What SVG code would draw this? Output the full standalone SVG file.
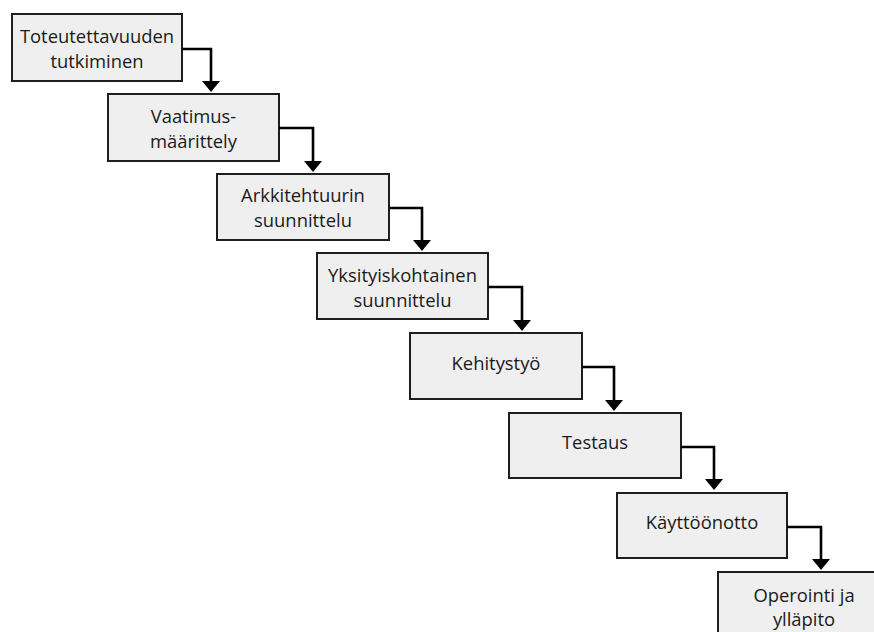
<svg xmlns="http://www.w3.org/2000/svg" width="874" height="632" viewBox="0 0 874 632">
<style>
.box{fill:#efefef;stroke:#1e1e1e;stroke-width:2}
.lbl{font-family:"Open Sans","Liberation Sans",sans-serif;font-size:18.4px;fill:#1a1a1a;text-anchor:middle}
.conn{fill:none;stroke:#000;stroke-width:2.6}
</style>
<defs>
<marker id="ah" markerUnits="userSpaceOnUse" markerWidth="14" markerHeight="20" viewBox="0 -10 12 20" refX="0" refY="0" orient="auto">
<path d="M0,-9 L11,0 L0,9 z" fill="#000"/>
</marker>
</defs>
<rect width="874" height="632" fill="#fff"/>
<g id="n1"><rect class="box" x="12" y="14" width="170" height="67"/><text class="lbl" x="97" y="43">Toteutettavuuden</text><text class="lbl" x="97" y="68">tutkiminen</text></g>
<g id="n2"><rect class="box" x="108" y="94" width="171" height="67"/><text class="lbl" x="193.5" y="123">Vaatimus-</text><text class="lbl" x="193.5" y="148">määrittely</text></g>
<g id="n3"><rect class="box" x="217" y="174" width="172" height="66"/><text class="lbl" x="303" y="202">Arkkitehtuurin</text><text class="lbl" x="303" y="227">suunnittelu</text></g>
<g id="n4"><rect class="box" x="317" y="253" width="171" height="66"/><text class="lbl" x="402.5" y="282">Yksityiskohtainen</text><text class="lbl" x="402.5" y="307">suunnittelu</text></g>
<g id="n5"><rect class="box" x="410" y="333" width="172" height="66"/><text class="lbl" x="496" y="370">Kehitystyö</text></g>
<g id="n6"><rect class="box" x="509" y="413" width="172" height="65"/><text class="lbl" x="595" y="449">Testaus</text></g>
<g id="n7"><rect class="box" x="617" y="493" width="170" height="65"/><text class="lbl" x="702" y="529">Käyttöönotto</text></g>
<g id="n8"><rect class="box" x="718" y="572" width="172" height="70"/><text class="lbl" x="804" y="602">Operointi ja</text><text class="lbl" x="804" y="626">ylläpito</text></g>
<g id="connectors">
<path class="conn" d="M182,49 H211 V81" marker-end="url(#ah)"/>
<path class="conn" d="M279,128 H313 V161" marker-end="url(#ah)"/>
<path class="conn" d="M389,208 H422 V240" marker-end="url(#ah)"/>
<path class="conn" d="M488,287 H522 V320" marker-end="url(#ah)"/>
<path class="conn" d="M582,367 H614 V400" marker-end="url(#ah)"/>
<path class="conn" d="M681,447 H714 V479" marker-end="url(#ah)"/>
<path class="conn" d="M787,527 H821 V559" marker-end="url(#ah)"/>
</g>
</svg>
